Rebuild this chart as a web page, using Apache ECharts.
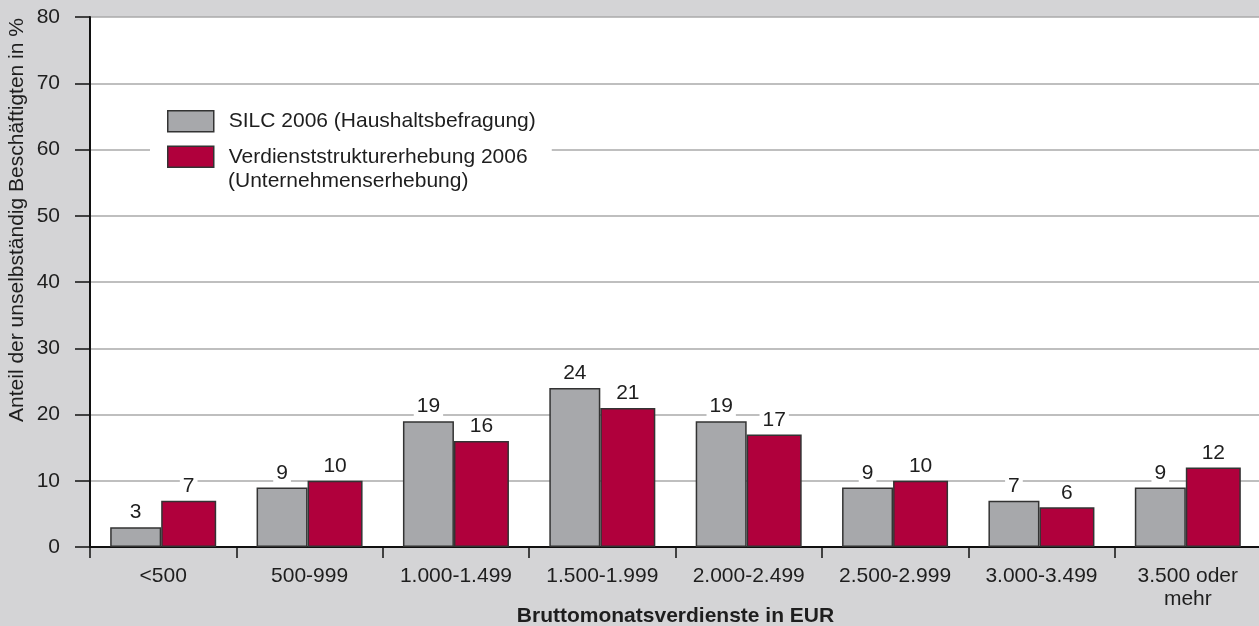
<!DOCTYPE html>
<html><head><meta charset="utf-8">
<script src="https://cdn.jsdelivr.net/npm/echarts@6/dist/echarts.min.js"></script>
<style>html,body{margin:0;padding:0;background:#d4d4d6}#c{width:1259px;height:626px}</style>
</head><body><div id="c"></div>
<script>
const categories = ['<500','500-999','1.000-1.499','1.500-1.999','2.000-2.499','2.500-2.999','3.000-3.499','3.500 oder\nmehr'];
const silc = [3,9,19,24,19,9,7,9];
const vse = [7,10,16,21,17,10,6,12];
const yTicks = [0,10,20,30,40,50,60,70,80];
const seriesNames = ['SILC 2006 (Haushaltsbefragung)','Verdienststrukturerhebung 2006\n(Unternehmenserhebung)'];

const font = 'Liberation Sans, Arial, Helvetica, sans-serif';
const chart = echarts.init(document.getElementById('c'));
const lbl = {show:true, position:'top', distance:4, color:'#1e1e1e', fontSize:21, fontFamily:font, backgroundColor:'#fff', padding:[0,3,0,3]};
chart.setOption({
  backgroundColor:'#d4d4d6',
  animation:false,
  grid:{left:90, top:17, width:1171, height:530, show:true, backgroundColor:'#fff', borderWidth:0, containLabel:false, outerBoundsMode:'none'},
  legend:{
    left:150, top:95, orient:'vertical', backgroundColor:'#fff',
    padding:[15,16,36,17], itemWidth:46, itemHeight:21, itemGap:13, icon:'rect',
    textStyle:{fontSize:21, fontFamily:font, color:'#1e1e1e', padding:[0,0,0,10]},
    itemStyle:{borderColor:'#333', borderWidth:1.5},
    formatter:n=>n.split('\n')[0],
    data:seriesNames
  },
  xAxis:{
    type:'category', data:categories,
    axisLine:{lineStyle:{color:'#111', width:2}},
    axisTick:{show:true, length:11, lineStyle:{color:'#111', width:1.5}},
    axisLabel:{color:'#1e1e1e', fontSize:21, fontFamily:font, margin:18, lineHeight:23, interval:0},
    name:'Bruttomonatsverdienste in EUR', nameLocation:'middle', nameGap:59, nameMoveOverlap:false,
    nameTextStyle:{fontWeight:'bold', fontSize:21, fontFamily:font, color:'#1e1e1e'}
  },
  yAxis:{
    type:'value', min:0, max:80, interval:10,
    axisLine:{show:true, lineStyle:{color:'#111', width:2}},
    axisTick:{show:true, length:15, lineStyle:{color:'#111', width:1.5}},
    axisLabel:{color:'#1e1e1e', fontSize:21, fontFamily:font, margin:30,
      formatter:v=>yTicks.includes(v)?String(v):''},
    splitLine:{show:true, lineStyle:{color:'#aaa', width:1.5}}
  },
  graphic:[{
    type:'text', x:17, y:220, rotation:Math.PI/2, z:10,
    style:{text:'Anteil der unselbständig Beschäftigten in %', fontSize:21, fontFamily:font, fill:'#1e1e1e', align:'center', verticalAlign:'middle'}
  },{
    type:'text', x:228, y:181, z:100,
    style:{text:seriesNames[1].split('\n')[1], fontSize:21, fontFamily:font, fill:'#1e1e1e', align:'left', verticalAlign:'middle'}
  }],
  series:[
    {name:seriesNames[0], type:'bar', data:silc, barWidth:51, barGap:'0%',
     itemStyle:{color:'#a7a8ab', borderColor:'#333', borderWidth:1.5}, label:lbl},
    {name:seriesNames[1], type:'bar', data:vse, barWidth:55,
     itemStyle:{color:'#b0003c', borderColor:'#333', borderWidth:1.5}, label:lbl}
  ]
});
</script></body></html>
